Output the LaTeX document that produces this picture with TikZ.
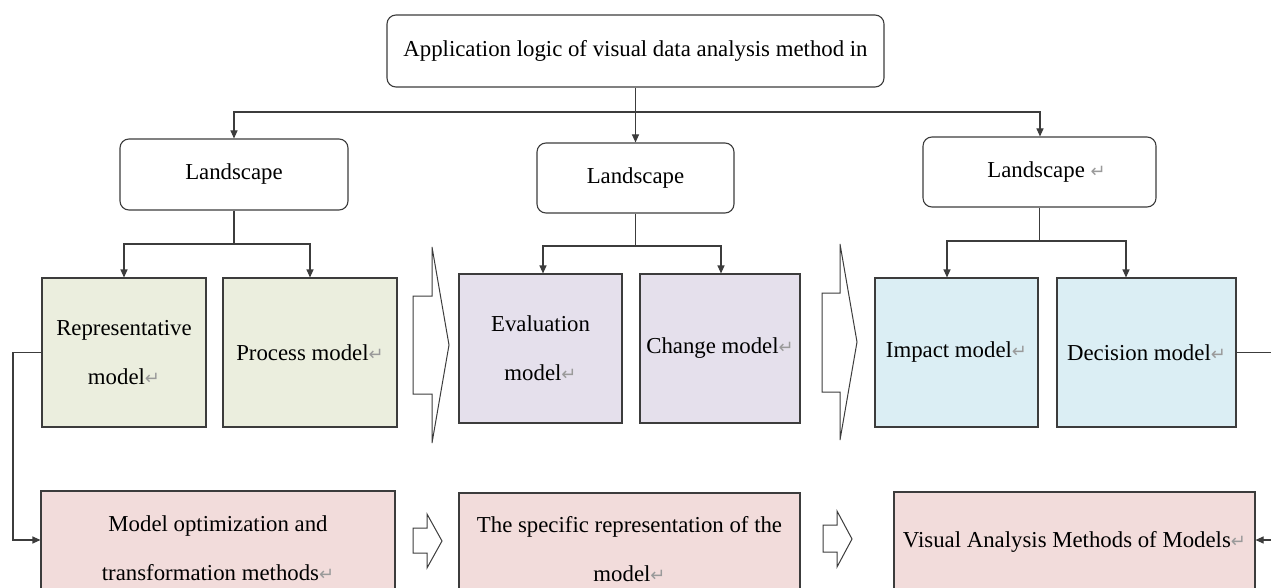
\documentclass[tikz,border=0pt]{standalone}
\usepackage{fontspec}
\setmainfont{Liberation Serif}
\newfontfamily\symfont{DejaVu Sans}
\usetikzlibrary{arrows.meta}

\definecolor{lineclr}{HTML}{3C3C3C}
\definecolor{greenfill}{HTML}{EBEEDE}
\definecolor{purplefill}{HTML}{E5E0EC}
\definecolor{bluefill}{HTML}{DBEEF4}
\definecolor{pinkfill}{HTML}{F2DCDB}
\definecolor{retclr}{HTML}{9A9A9A}

% paragraph mark shown after the labels
\newcommand{\pmark}{{\color{retclr}\symfont\fontsize{18}{18}\selectfont ↵}}

\tikzset{
  txt/.style={font=\fontsize{22.8}{49}\selectfont, align=center, text=black},
  headbox/.style={txt, draw=lineclr, line width=1.1pt, rounded corners=9pt, fill=white, inner sep=0pt},
  modelbox/.style={txt, draw=lineclr, line width=1.1pt, inner sep=0pt},
  conn/.style={draw=lineclr, line width=1.1pt},
  arr/.style={conn, -{Triangle[length=8pt,width=7pt]}},
  bigarrow/.style={draw=lineclr, line width=1pt, fill=white, line join=miter},
}

\begin{document}
\begin{tikzpicture}[x=1pt, y=-1pt]
\useasboundingbox (0,0) rectangle (1271,588);
\clip (0,0) rectangle (1271,588);
\fill[white] (0,0) rectangle (1271,588);

% title and the three landscape boxes
\node[headbox, minimum width=497, minimum height=72] (top) at (635.5,51) {Application logic of visual data analysis method in};
\node[headbox, minimum width=228, minimum height=71] (L1) at (234,174.5) {\raisebox{-3pt}{Landscape}};
\node[headbox, minimum width=197, minimum height=70] (L2) at (635.5,178) {\raisebox{-2pt}{Landscape}};
\node[headbox, minimum width=233, minimum height=70] (L3) at (1039.5,172) {\hspace*{14pt}Landscape \pmark};

% model boxes
\node[modelbox, fill=greenfill, minimum width=164, minimum height=149] (rep) at (124,352.5) {Representative\\model\pmark};
\node[modelbox, fill=greenfill, minimum width=174, minimum height=149] (proc) at (310,352.5) {Process model\pmark};
\node[modelbox, fill=purplefill, minimum width=163, minimum height=149] (eval) at (540.5,348.5) {Evaluation\\model\pmark};
\node[modelbox, fill=purplefill, minimum width=160, minimum height=149] (chg) at (720,348.5) {Change model\pmark};
\node[modelbox, fill=bluefill, minimum width=163, minimum height=149] (imp) at (956.5,352.5) {Impact model\pmark};
\node[modelbox, fill=bluefill, minimum width=179, minimum height=149] (dec) at (1146.5,352.5) {Decision model\pmark};

% method boxes
\node[modelbox, fill=pinkfill, minimum width=354, minimum height=114] (opt) at (218,548) {Model optimization and\\transformation methods\pmark};
\node[modelbox, fill=pinkfill, minimum width=341, minimum height=112] (spec) at (629.5,549) {The specific representation of the\\model\pmark};
\node[modelbox, fill=pinkfill, minimum width=361, minimum height=100] (vis) at (1074.5,542) {Visual Analysis Methods of Models\pmark};

% branching from the title
\coordinate (s0) at (635.5,112);
\draw[conn] (top.south) -- (s0);
\draw[arr] (s0) -| (L1.north);
\draw[arr] (s0) -- (L2.north);
\draw[arr] (s0) -| ([xshift=0.5pt]L3.north);

% branching from each landscape box
\coordinate (s1) at (234,244);
\draw[conn] (L1.south) -- (s1);
\draw[arr] (s1) -| (rep.north);
\draw[arr] (s1) -| (proc.north);

\coordinate (s2) at (635.5,246);
\draw[conn] (L2.south) -- (s2);
\draw[arr] (s2) -| ([xshift=2.5pt]eval.north);
\draw[arr] (s2) -| ([xshift=1pt]chg.north);

\coordinate (s3) at (1039.5,241);
\draw[conn] (L3.south) -- (s3);
\draw[arr] (s3) -| ([xshift=-9.5pt]imp.north);
\draw[arr] (s3) -| ([xshift=-20.5pt]dec.north);

% side connectors down to the method row
\coordinate (lc) at (13,540);
\draw[arr] (rep.west) -| (lc) -- (lc -| opt.west);
\coordinate (rc) at (1290,540);
\draw[arr] (dec.east) -| (rc) -- (rc -| vis.east);

% large block arrows between the model groups
\draw[bigarrow] (413,296) -- (432,296) -- (432,247) -- (449,345) -- (432,443) -- (432,394) -- (413,394) -- cycle;
\draw[bigarrow] (822,293) -- (840,293) -- (840,244) -- (857,342) -- (840,440) -- (840,392) -- (822,392) -- cycle;

% small block arrows between the method boxes
\draw[bigarrow] (413,528) -- (427,528) -- (427,514) -- (442,541) -- (427,568) -- (427,553) -- (413,553) -- cycle;
\draw[bigarrow] (823,525) -- (837,525) -- (837,511) -- (852,539) -- (837,567) -- (837,552) -- (823,552) -- cycle;
\end{tikzpicture}
\end{document}
